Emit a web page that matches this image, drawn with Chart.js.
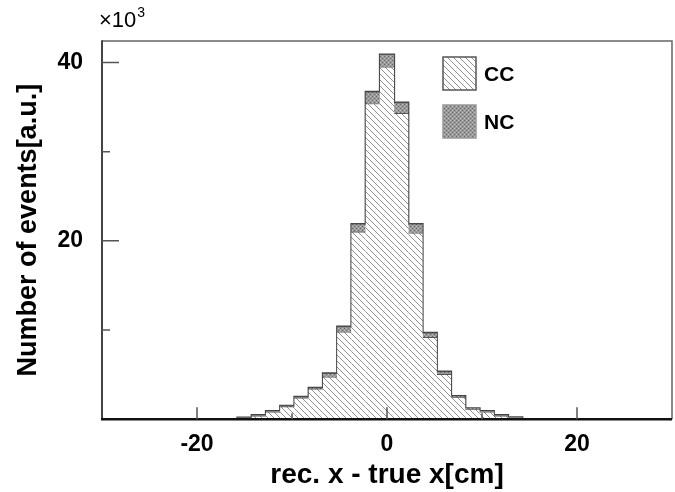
<!DOCTYPE html>
<html>
<head>
<meta charset="utf-8">
<script src="https://cdn.jsdelivr.net/npm/chart.js@4/dist/chart.umd.min.js"></script>
<style>
  html, body { margin: 0; padding: 0; background: #fff; }
  #wrap { width: 675px; height: 492px; }
</style>
</head>
<body>
<div id="wrap"><canvas id="myChart" width="675" height="492"></canvas></div>
<script>
// bin centres [cm], bin width 1.5 cm
var binCentres = [-15, -13.5, -12, -10.5, -9, -7.5, -6, -4.5, -3, -1.5, 0, 1.5, 3, 4.5, 6, 7.5, 9, 10.5, 12, 13.5];
// events per bin, in units of 10^3
var ccEvents = [0.15, 0.4, 0.85, 1.42, 2.42, 3.42, 4.77, 9.8, 21.0, 35.4, 39.5, 34.3, 20.9, 9.2, 5.05, 2.5, 1.15, 0.85, 0.4, 0.15];
var ncEvents = [0.05, 0.08, 0.08, 0.1, 0.11, 0.12, 0.38, 0.6, 0.9, 1.3, 1.4, 1.2, 1.0, 0.5, 0.3, 0.1, 0.08, 0.08, 0.08, 0.07];
var binWidth = 1.5;
var xTickLabels = [-20, 0, 20];
var yTickLabels = [20, 40];

function hatchPattern() {
    var c = document.createElement("canvas");
    c.width = 6; c.height = 6;
    var g = c.getContext("2d");
    g.fillStyle = "#fff";
    g.fillRect(0, 0, 6, 6);
    g.strokeStyle = "#909090";
    g.lineWidth = 1;
    g.beginPath();
    g.moveTo(-1, -1); g.lineTo(7, 7);
    g.moveTo(-1, 5); g.lineTo(1, 7);
    g.moveTo(5, -1); g.lineTo(7, 1);
    g.stroke();
    return g.createPattern(c, "repeat");
}

function stipplePattern() {
    var c = document.createElement("canvas");
    c.width = 4; c.height = 4;
    var g = c.getContext("2d");
    g.fillStyle = "#9a9a9a";
    g.fillRect(0, 0, 4, 4);
    g.fillStyle = "#666";
    g.fillRect(0, 0, 1, 1);
    g.fillRect(2, 2, 1, 1);
    g.fillStyle = "#bdbdbd";
    g.fillRect(2, 0, 1, 1);
    g.fillRect(0, 2, 1, 1);
    return g.createPattern(c, "repeat");
}

var ccFill = hatchPattern();
var ncFill = stipplePattern();

var ccData = [], ncData = [], outline = [];
for (var i = 0; i < binCentres.length; i++) {
    ccData.push({x: binCentres[i], y: ccEvents[i]});
    ncData.push({x: binCentres[i], y: ncEvents[i]});
}
// step outline of the summed histogram
outline.push({x: binCentres[0] - binWidth / 2, y: 0});
for (var j = 0; j < binCentres.length; j++) {
    outline.push({x: binCentres[j] - binWidth / 2, y: ccEvents[j] + ncEvents[j]});
}
outline.push({x: binCentres[binCentres.length - 1] + binWidth / 2, y: 0});

var labelFont = {family: "Liberation Sans", size: 23, weight: "bold"};

// frame, inward ticks, x10^3 and legend
var decorations = {
    id: "decorations",
    afterDraw: function(chart) {
        var ctx = chart.ctx, a = chart.chartArea;
        var xs = chart.scales.x, ys = chart.scales.y;
        ctx.save();
        ctx.lineCap = "butt";

        ctx.strokeStyle = "#666";
        ctx.lineWidth = 1.5;
        ctx.beginPath();
        ctx.moveTo(a.left, a.top); ctx.lineTo(a.right, a.top); ctx.lineTo(a.right, a.bottom);
        ctx.stroke();

        ctx.strokeStyle = "#444";
        ctx.lineWidth = 2;
        ctx.beginPath();
        ctx.moveTo(a.left, a.top - 0.75); ctx.lineTo(a.left, a.bottom);
        ctx.stroke();

        ctx.strokeStyle = "#111";
        ctx.lineWidth = 2.5;
        ctx.beginPath();
        ctx.moveTo(a.left - 1, a.bottom); ctx.lineTo(a.right, a.bottom);
        ctx.stroke();

        ctx.strokeStyle = "#555";
        ctx.lineWidth = 1.5;
        ctx.beginPath();
        [10, 20, 30, 40].forEach(function(v) {
            var py = ys.getPixelForValue(v);
            ctx.moveTo(a.left, py);
            ctx.lineTo(a.left + (v % 20 === 0 ? 17 : 8), py);
        });
        [-20, -10, 0, 10, 20].forEach(function(v) {
            var px = xs.getPixelForValue(v);
            ctx.moveTo(px, a.bottom);
            ctx.lineTo(px, a.bottom - (v % 20 === 0 ? 12 : 6));
        });
        ctx.stroke();

        ctx.fillStyle = "#000";
        ctx.textBaseline = "alphabetic";
        ctx.textAlign = "left";
        ctx.font = "22px 'Liberation Sans'";
        ctx.fillText("\u00d710", 99, 27);
        var w = ctx.measureText("\u00d710").width;
        ctx.font = "14px 'Liberation Sans'";
        ctx.fillText("3", 99 + w + 1, 17);

        var boxes = [{y: 57, fill: ccFill, edge: "#555"}, {y: 105, fill: ncFill, edge: "#999"}];
        ctx.font = "bold 21px 'Liberation Sans'";
        ctx.textBaseline = "middle";
        boxes.forEach(function(b, k) {
            ctx.fillStyle = b.fill;
            ctx.fillRect(443, b.y, 33, 33);
            ctx.strokeStyle = b.edge;
            ctx.lineWidth = 1.5;
            ctx.strokeRect(443, b.y, 33, 33);
            ctx.fillStyle = "#000";
            ctx.fillText(chart.data.datasets[k].label, 484, b.y + 18);
        });
        ctx.restore();
    }
};

var chart = new Chart(document.getElementById("myChart"), {
    type: "bar",
    data: {
        datasets: [{
            label: "CC",
            data: ccData,
            backgroundColor: ccFill,
            borderColor: "#555",
            borderWidth: {top: 1, left: 0, right: 0, bottom: 0},
            barPercentage: 1,
            categoryPercentage: 1
        }, {
            label: "NC",
            data: ncData,
            backgroundColor: ncFill,
            borderColor: "#555",
            borderWidth: {top: 1, left: 0, right: 0, bottom: 0},
            barPercentage: 1,
            categoryPercentage: 1
        }, {
            type: "line",
            label: "outline",
            stack: "outline",
            data: outline,
            stepped: "before",
            borderColor: "#444",
            borderWidth: 2,
            pointRadius: 0,
            fill: false
        }]
    },
    options: {
        responsive: false,
        animation: false,
        events: [],
        layout: {padding: {left: 0, top: 41, right: 3, bottom: 0}},
        plugins: {legend: {display: false}, tooltip: {enabled: false}},
        scales: {
            x: {
                type: "linear",
                stacked: true,
                offset: false,
                min: -30,
                max: 30,
                grid: {display: false, drawTicks: false},
                border: {display: false},
                ticks: {
                    stepSize: 10,
                    autoSkip: false,
                    maxRotation: 0,
                    padding: 12,
                    color: "#000",
                    font: labelFont,
                    callback: function(v) { return xTickLabels.indexOf(v) >= 0 ? String(v) : ""; }
                },
                title: {
                    display: true,
                    text: "rec. x - true x[cm]",
                    color: "#000",
                    font: {family: "Liberation Sans", size: 28, weight: "bold"},
                    padding: {top: 0, bottom: 0}
                },
                afterFit: function(s) {
                    s.height = 72.7;
                    s.paddingLeft = 0;
                    s.paddingRight = 0;
                }
            },
            y: {
                stacked: true,
                min: 0,
                max: 42.4,
                grid: {display: false, drawTicks: false},
                border: {display: false},
                ticks: {
                    stepSize: 10,
                    includeBounds: false,
                    autoSkip: false,
                    padding: 19,
                    color: "#000",
                    font: labelFont,
                    callback: function(v) { return yTickLabels.indexOf(v) >= 0 ? String(v) : ""; }
                },
                title: {
                    display: true,
                    text: "Number of events[a.u.]",
                    color: "#000",
                    font: {family: "Liberation Sans", size: 27, weight: "bold"},
                    padding: {top: 12, bottom: 0}
                },
                afterFit: function(s) { s.width = 102; }
            }
        }
    },
    plugins: [decorations]
});
</script>
</body>
</html>
